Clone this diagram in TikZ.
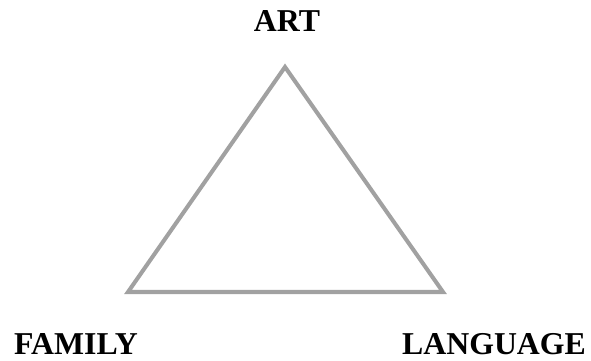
\documentclass[tikz,border=0pt]{standalone}
\usepackage{fontspec}
\setmainfont{Liberation Serif}
\begin{document}
\begin{tikzpicture}[x=0.02cm, y=-0.02cm,
  corner/.style={font=\fontsize{18.1}{21}\selectfont\bfseries, inner sep=0pt},
  side/.style={draw=black!37, line width=2.3pt, line join=miter}]
% frame of the picture, in pixels of the reference
\useasboundingbox (0,0) rectangle (591,361);

% triangle corners
\coordinate (apex) at (285,67);
\coordinate (left) at (128,292);
\coordinate (right) at (443,292);

% labels
\node[corner] (art) at (287,21) {ART};
\node[corner] (family) at (76,344) {FAMILY};
\node[corner] (language) at (494,344) {LANGUAGE};

% the triangle
\draw[side] (apex) -- (left) -- (right) -- cycle;
\end{tikzpicture}
\end{document}
